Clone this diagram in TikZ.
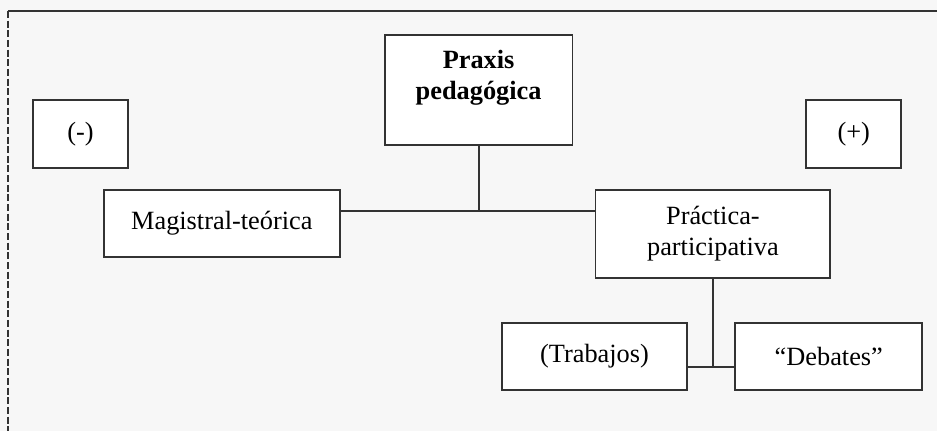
\documentclass[tikz,border=0pt]{standalone}
\usepackage{fontspec}
\setmainfont{Liberation Serif}
\usepackage{xcolor}
\usetikzlibrary{positioning}
\definecolor{fondo}{HTML}{F7F7F7}
\definecolor{trazo}{HTML}{333333}

\begin{document}
\begin{tikzpicture}[x=0.02cm,y=-0.02cm,
    caja/.style={draw=trazo,line width=1.1pt,fill=white,align=center,
      font=\fontsize{15}{17.5}\selectfont,inner sep=0pt},
    linea/.style={draw=trazo,line width=1.1pt}]
    % fondo y marco
    \fill[fondo] (0,0) rectangle (938,431);
    \draw[trazo,line width=0.9pt] (8,11)--(938,11);
    \draw[trazo,line width=0.9pt,dash pattern=on 4pt off 1.5pt] (8,11)--(8,431);
    % cajas
    \node[caja,minimum width=1.9cm,minimum height=1.36cm] (menos) at (80.5,134) {(-)};
    \node[caja,minimum width=3.76cm,minimum height=2.2cm] (praxis) at (479,90)
        {\textbf{Praxis}\\\textbf{pedagógica}\\\mbox{}};
    \node[caja,minimum width=1.9cm,minimum height=1.36cm] (mas) at (854.5,134) {(+)};
    \node[caja,minimum width=4.72cm,minimum height=1.34cm] (magistral) at (222,223.5) {Magistral-teórica};
    \node[caja,minimum width=4.7cm,minimum height=1.76cm] (practica) at (713.5,234) {Práctica-\\participativa};
    \node[caja,minimum width=3.72cm,minimum height=1.34cm] (trabajos) at (595,356.5) {(Trabajos)};
    \node[caja,minimum width=3.74cm,minimum height=1.34cm] (debates) at (829.5,356.5) {“Debates”};
    % conexiones
    \coordinate (cruce) at (479,211);
    \coordinate (union) at (713.5,367);
    \draw[linea] (praxis.south) -- (cruce);
    \draw[linea] (magistral.east |- cruce) -- (practica.west |- cruce);
    \draw[linea] (practica.south) -- (union);
    \draw[linea] (trabajos.east |- union) -- (debates.west |- union);
\end{tikzpicture}
\end{document}
